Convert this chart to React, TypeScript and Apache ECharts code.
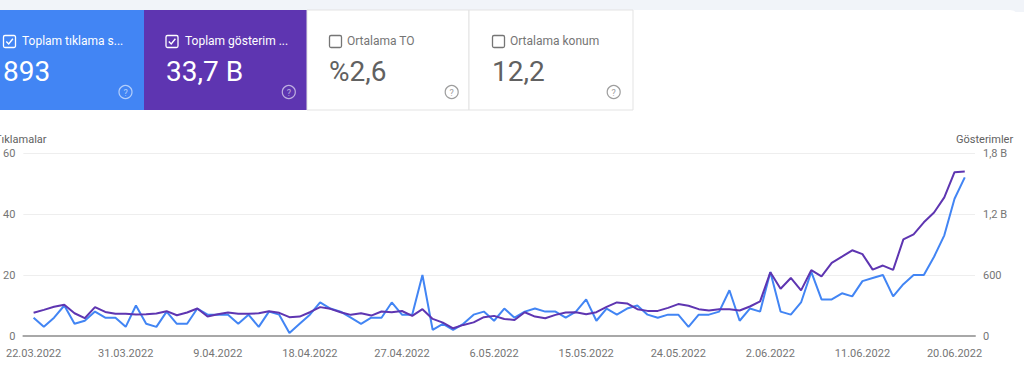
import React, { useEffect, useRef } from "react";
import * as echarts from "echarts";

const START = { y: 2022, m: 2, d: 22 };
const clicks = [6,3,6,10,4,5,8,6,6,3, 10,4,3,8,4,4,9,7,7,7, 4,7,3,8,7,1,4,7,11,9, 8,6,4,6,6,11,7,7,20,2, 4,2,4,7,8,5,9,6,8,9, 8,8,6,8,12,5,9,7,9,10, 7,6,7,7,3,7,7,8,15,5, 9,8,21,8,7,11,21,12,12,14, 13,18,19,20,13,17,20,20,26,33, 45,52];
const impressions = [228,257,287,307,224,175,284,237,218,218,211,214,221,244,204,231,
  270,191,214,231,218,218,224,244,228,185,191,234,284,267,234,208,
  224,201,241,234,246,198,264,168,131,76,109,134,185,198,168,158,
  234,191,175,208,231,234,214,234,287,330,320,264,247,247,277,314,
  297,264,251,264,264,251,290,340,627,465,571,449,647,587,720,780,843,805,653,693,650,950,1000,1118,1215,1363,1611,1617];
const xTickIndexes = [0, 9, 18, 27, 36, 45, 54, 63, 72, 81, 90];

const cardLabels = ["Toplam tıklama s...", "Toplam gösterim ...", "Ortalama TO", "Ortalama konum"];
const cardValues = ["893", "33,7 B", "%2,6", "12,2"];
const cardChecked = [true, true, false, false];

function dayLabel(i: number) {
  const d = new Date(START.y, START.m, START.d + i);
  return `${d.getDate()}.${String(d.getMonth() + 1).padStart(2, "0")}.${d.getFullYear()}`;
}

const FONT = "Roboto";

function buildCards() {
  const cards = [
    { x: 0, w: 144, bg: "#4285f4", fg: "#ffffff", sub: "#ffffff", help: "rgba(255,255,255,0.6)", cbx: 3.5, tx: 22, vx: 3, hx: 125.5 },
    { x: 144, w: 163, bg: "#5e35b1", fg: "#ffffff", sub: "#ffffff", help: "rgba(255,255,255,0.6)", cbx: 166, tx: 185, vx: 166, hx: 288.8 },
    { x: 307, w: 162, bg: "#ffffff", fg: "#616161", sub: "#757575", help: "#9e9e9e", cbx: 329.5, tx: 347, vx: 329, hx: 451.7 },
    { x: 469, w: 164, bg: "#ffffff", fg: "#616161", sub: "#757575", help: "#9e9e9e", cbx: 492.5, tx: 510, vx: 492, hx: 613.7 },
  ];
  const els: any[] = [];
  cards.forEach((c, i) => {
    els.push({
      type: "rect",
      shape: { x: c.x, y: 10, width: c.w, height: 100 },
      style: i < 2 ? { fill: c.bg } : { fill: c.bg, stroke: "#e3e3e3", lineWidth: 1 },
      silent: true,
    });
    els.push({
      type: "rect",
      shape: { x: c.cbx, y: 35.5, width: 12, height: 12, r: 1.5 },
      style: { fill: "none", stroke: c.sub, lineWidth: 1.3 },
      silent: true,
    });
    if (cardChecked[i]) {
      els.push({
        type: "polyline",
        shape: { points: [[c.cbx + 2.8, 41.5], [c.cbx + 5.2, 44], [c.cbx + 9.4, 38.8]] },
        style: { fill: "none", stroke: c.sub, lineWidth: 1.4 },
        silent: true,
      });
    }
    els.push({
      type: "text",
      x: c.tx, y: 41,
      style: { text: cardLabels[i], fill: c.sub, font: `12px ${FONT}`, verticalAlign: "middle", align: "left" },
      silent: true,
    });
    els.push({
      type: "text",
      x: c.vx, y: 71.5,
      style: { text: cardValues[i], fill: c.fg, font: `28px ${FONT}`, verticalAlign: "middle", align: "left" },
      silent: true,
    });
    els.push({
      type: "circle",
      shape: { cx: c.hx, cy: 92, r: 6.5 },
      style: { fill: "none", stroke: c.help, lineWidth: 1.2 },
      silent: true,
    });
    els.push({
      type: "text",
      x: c.hx, y: 92.5,
      style: { text: "?", fill: c.help, font: `9px ${FONT}`, verticalAlign: "middle", align: "center" },
      silent: true,
    });
  });
  return els;
}

export default function App() {
  const ref = useRef<HTMLDivElement>(null);
  useEffect(() => {
    if (!ref.current) return;
    const chart = echarts.init(ref.current, null, { renderer: "svg" });
    const clickData = clicks.map((v, i) => [i, v]);
    const imprData = impressions.map((v, i) => [i, v]);
    chart.setOption({
      animation: false,
      backgroundColor: "#ffffff",
      grid: { left: 20, right: 49, top: 153, bottom: 29, containLabel: false },
      xAxis: {
        type: "value",
        min: -1,
        max: 92,
        axisLine: { show: true, onZero: false, lineStyle: { color: "#a8a8a8", width: 2 } },
        axisTick: { show: false },
        splitLine: { show: false },
        axisLabel: {
          customValues: xTickIndexes,
          formatter: (v: number) => dayLabel(v),
          color: "#757575",
          fontFamily: FONT,
          fontSize: 11,
          margin: 12,
        },
      },
      yAxis: [
        {
          type: "value",
          min: 0,
          max: 60,
          interval: 20,
          position: "left",
          axisLine: { show: false },
          axisTick: { show: false },
          splitLine: { lineStyle: { color: "#eeeeee", width: 1 } },
          axisLabel: { color: "#757575", fontFamily: FONT, fontSize: 11, margin: 8 },
        },
        {
          type: "value",
          min: 0,
          max: 1800,
          interval: 600,
          position: "right",
          axisLine: { show: false },
          axisTick: { show: false },
          splitLine: { show: false },
          axisLabel: {
            color: "#757575",
            fontFamily: FONT,
            fontSize: 11,
            margin: 8,
            formatter: (v: number) => (v < 1000 ? String(v) : (v / 1000).toFixed(1).replace(".", ",") + " B"),
          },
        },
      ],
      graphic: [
        { type: "rect", shape: { x: 0, y: 0, width: 1024, height: 12 }, style: { fill: "#f1f4f9" }, silent: true },
        { type: "rect", shape: { x: -20, y: 10, width: 1040, height: 400, r: 10 }, style: { fill: "#ffffff" }, silent: true },
        ...buildCards(),
        {
          type: "text", x: -5, y: 139,
          style: { text: "Tıklamalar", fill: "#616161", font: `11px ${FONT}`, verticalAlign: "middle", align: "left" },
          silent: true,
        },
        {
          type: "text", x: 956, y: 139,
          style: { text: "Gösterimler", fill: "#616161", font: `11px ${FONT}`, verticalAlign: "middle", align: "left" },
          silent: true,
        },
      ],
      series: [
        {
          name: "Tıklamalar",
          type: "line",
          yAxisIndex: 0,
          data: clickData,
          showSymbol: false,
          lineStyle: { color: "#4285f4", width: 2 },
          itemStyle: { color: "#4285f4" },
          z: 3,
        },
        {
          name: "Gösterimler",
          type: "line",
          yAxisIndex: 1,
          data: imprData,
          showSymbol: false,
          lineStyle: { color: "#5e35b1", width: 2 },
          itemStyle: { color: "#5e35b1" },
          z: 4,
        },
      ],
    });
    return () => chart.dispose();
  }, []);
  return (
    <div style={{ position: "fixed", left: 0, top: 0, width: 1024, height: 365, overflow: "hidden", background: "#fff" }}>
      <div ref={ref} style={{ width: 1024, height: 365 }} />
    </div>
  );
}
